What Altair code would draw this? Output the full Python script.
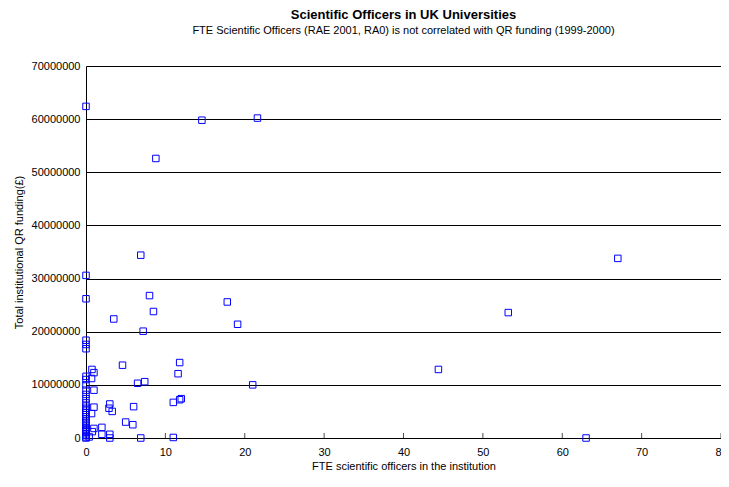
import altair as alt
import pandas as pd

# FTE scientific officers (x) and total institutional QR funding in £ (y)
fte = [
    0, 14.6, 21.6, 8.8, 6.9, 67.0, 0, 0, 8.0, 17.8,
    8.5, 53.2, 3.5, 19.1, 7.2, 0, 0, 0, 11.8, 4.6,
    44.4, 0.75, 1.0, 11.6, 0.7, 7.4, 6.5, 21.0, 1.0, 12.0,
    11.8, 11.0, 3.0, 6.0, 1.0, 2.9, 3.3, 0.7, 5.0, 5.9,
    2.0, 1.0, 0.8, 2.0, 3.0, 0.4, 3.0, 6.9, 11.0, 63.0,
    0, 0, 0, 0, 0, 0, 0, 0, 0, 0,
    0, 0, 0, 0, 0, 0, 0, 0, 0, 0,
    0, 0, 0, 0, 0,
]
funding = [
    62400000, 59800000, 60200000, 52600000, 34400000, 33800000, 30600000, 26200000, 26800000, 25600000,
    23800000, 23600000, 22400000, 21400000, 20100000, 18400000, 17600000, 16800000, 14200000, 13700000,
    12900000, 12900000, 12300000, 12100000, 11200000, 10600000, 10300000, 10000000, 9000000, 7400000,
    7200000, 6700000, 6400000, 5900000, 5800000, 5600000, 5000000, 4600000, 3000000, 2500000,
    2000000, 1800000, 1200000, 700000, 700000, 200000, 0, 0, 100000, 0,
    11600000, 11000000, 10000000, 9000000, 8200000, 7400000, 6600000, 6000000, 5600000, 5200000,
    4800000, 4400000, 4000000, 3600000, 3200000, 2800000, 2400000, 2000000, 1700000, 1400000,
    1100000, 800000, 500000, 200000, 0,
]
x_ticks = [0, 10, 20, 30, 40, 50, 60, 70, 80]
y_ticks = [0, 10000000, 20000000, 30000000, 40000000, 50000000, 60000000, 70000000]

df = pd.DataFrame({"fte": fte, "funding": funding})
ticks_df = pd.DataFrame({"t": x_ticks[1:]})

FONT = "Liberation Sans"

xscale = alt.Scale(domain=[0, 80], nice=False, zero=True)
yscale = alt.Scale(domain=[0, 70000000], nice=False)

points = alt.Chart(df).mark_point(
    shape="square", filled=False, size=42, color="#0000FF", strokeWidth=1, opacity=1
).encode(
    x=alt.X("fte:Q", scale=xscale,
            axis=alt.Axis(values=x_ticks, title="FTE scientific officers in the institution",
                          grid=False, ticks=False, labelFlush=False, labelPadding=8, titlePadding=3,
                          domainColor="black", labelFontSize=11, titleFontSize=11,
                          titleFontWeight="normal", labelColor="black", titleColor="black",
                          labelFont=FONT, titleFont=FONT)),
    y=alt.Y("funding:Q", scale=yscale,
            axis=alt.Axis(values=y_ticks, format="d", title="Total institutional QR funding(£)",
                          grid=True, gridColor="black", gridOpacity=1, gridWidth=1,
                          ticks=False, labelFlush=False, labelPadding=6, titlePadding=7,
                          domainColor="black", labelFontSize=11, titleFontSize=11,
                          titleFontWeight="normal", labelColor="black", titleColor="black",
                          labelFont=FONT, titleFont=FONT)),
)

tick_marks = alt.Chart(ticks_df).mark_tick(
    orient="vertical", size=5, yOffset=-2.5, color="black", thickness=1
).encode(
    x=alt.X("t:Q", scale=xscale),
    y=alt.datum(0, scale=yscale),
)

chart = alt.layer(points, tick_marks).properties(
    width=635,
    height=372,
    title=alt.TitleParams(
        text="Scientific Officers in UK Universities",
        subtitle="FTE Scientific Officers (RAE 2001, RA0) is not correlated with QR funding (1999-2000)",
        font=FONT, fontSize=13, fontWeight="bold", color="black",
        subtitleFont=FONT, subtitleFontSize=11, subtitleColor="black",
        subtitlePadding=3, anchor="middle", offset=24, frame="group",
    ),
    autosize=alt.AutoSizeParams(type="none"),
    padding={"left": 78, "top": 58, "right": 0, "bottom": 37},
).configure_view(stroke=None)

chart.save("out.html", embed_options={"renderer": "svg", "actions": False})
